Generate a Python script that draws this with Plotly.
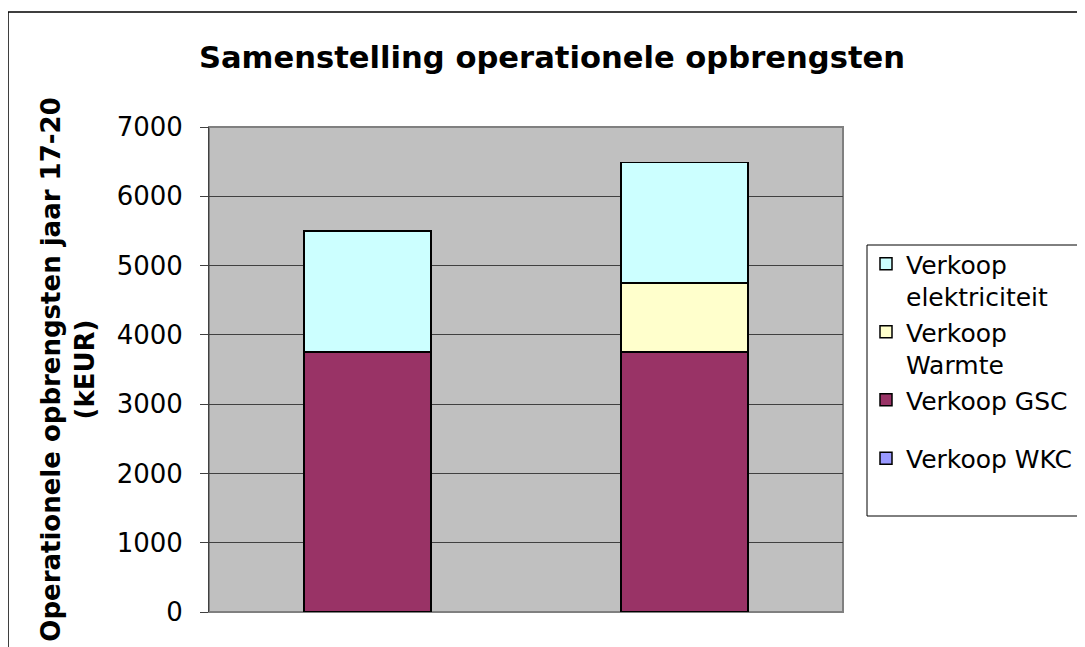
import plotly.graph_objects as go

# data
categories = ["Alternatief 1", "Alternatief 2"]
wkc = [0, 0]
gsc = [3750, 3750]
warmte = [0, 1000]
elektriciteit = [1750, 1740]

series_names = ["Verkoop WKC", "Verkoop GSC", "Verkoop<br>Warmte", "Verkoop<br>elektriciteit"]
series_groups = ["b", "a", "a", "a"]
series_ranks = [4, 3, 2, 1]
series_values = [wkc, gsc, warmte, elektriciteit]
series_colors = ["#9999FF", "#993366", "#FFFFCC", "#CCFFFF"]

# page body has an 8px margin, so work in screen pixels and shift
OFF = 8
W, H = 1085 - OFF, 647 - OFF
L, R, T, B = 209 - OFF, 1085 - 843, 127 - OFF, 35
PW, PH = W - L - R, H - T - B


def px_x(x):
    return (x - OFF - L) / PW


def px_y(y):
    return 1 - (y - OFF - T) / PH


fig = go.Figure()
for name, grp, rank, vals, col in zip(series_names, series_groups, series_ranks,
                                      series_values, series_colors):
    fig.add_trace(go.Bar(
        x=categories, y=vals, name=name, width=0.4,
        legendgroup=grp, legendrank=rank,
        marker=dict(color=col, line=dict(color="black", width=1.5)),
    ))

font_family = "DejaVu Sans, Verdana, sans-serif"

fig.update_layout(
    width=W, height=H,
    margin=dict(l=L, r=R, t=T, b=B, autoexpand=False),
    barmode="stack",
    plot_bgcolor="#C0C0C0",
    paper_bgcolor="white",
    font=dict(family=font_family, color="black"),
    title=dict(text="<b>Samenstelling operationele opbrengsten</b>",
               x=(552 - OFF) / W, y=1 - (57 - OFF) / H, xanchor="center", yanchor="middle",
               font=dict(size=30.6, color="black")),
    showlegend=True,
    legend=dict(x=px_x(866), y=px_y(241), xanchor="left", yanchor="top",
                traceorder="grouped", valign="top", tracegroupgap=23,
                bgcolor="rgba(0,0,0,0)", borderwidth=0,
                font=dict(size=25, color="black")),
    shapes=[
        # outer chart border
        dict(type="rect", xref="paper", yref="paper",
             x0=px_x(8), y0=px_y(700), x1=px_x(1120), y1=px_y(12),
             line=dict(color="black", width=1.5), layer="below"),
        # legend box
        dict(type="rect", xref="paper", yref="paper",
             x0=px_x(867), y0=px_y(516), x1=px_x(1120), y1=px_y(245),
             line=dict(color="black", width=1), fillcolor="white", layer="below"),
        # plot area border
        dict(type="rect", xref="paper", yref="paper",
             x0=0, y0=0, x1=1, y1=1,
             line=dict(color="#808080", width=2), layer="below"),
    ],
)

fig.update_xaxes(showticklabels=False, showgrid=False, zeroline=False,
                 showline=False, ticks="")
fig.update_yaxes(range=[0, 7000], dtick=1000, tickformat="d",
                 showgrid=True, gridcolor="#404040", gridwidth=1,
                 zeroline=False, showline=True, linecolor="#404040", linewidth=1,
                 ticks="outside", ticklen=8, tickcolor="#404040",
                 ticklabelstandoff=12,
                 tickfont=dict(size=26, color="black"),
                 title=dict(text="<b>Operationele opbrengsten jaar 17-20<br>(kEUR)</b>",
                            font=dict(size=26, color="black"), standoff=14),
                 automargin=False)

fig.write_html("out.html")
